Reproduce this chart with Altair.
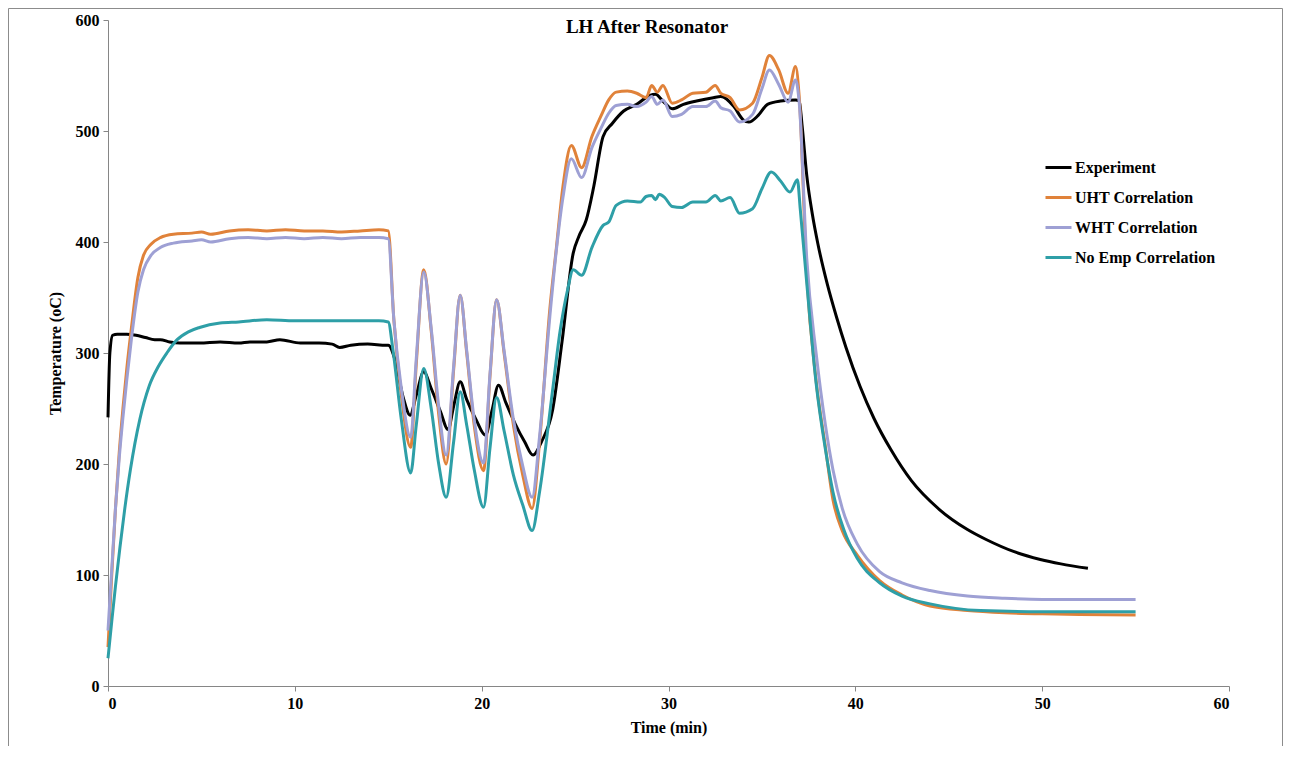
import altair as alt
import pandas as pd

# ---------------- data ----------------
series_names = ["Experiment", "UHT Correlation", "WHT Correlation", "No Emp Correlation"]
series_colors = ["#000000", "#E0823A", "#9EA0D4", "#2E9FA7"]

exp_t = [0, 0.1, 0.25, 0.5, 1.0, 1.5, 2.0, 2.5, 2.8, 3.3, 3.85, 4.9, 6.0, 7.0, 7.6, 8.5, 9.2,
         10.3, 11.3, 12.0, 12.4, 13.0, 13.9, 14.9, 15.0, 15.36, 15.8, 16.17, 16.5, 16.9, 17.3,
         17.8, 18.2, 18.5, 18.85, 19.2, 19.7, 20.2, 20.55, 20.9, 21.3, 21.8, 22.3, 22.75, 23.2,
         23.8, 24.3, 24.9, 25.2, 25.6, 26.0, 26.5, 27.0, 27.6, 28.3, 29.0, 29.3, 29.7, 30.2, 30.8,
         31.5, 32.4, 32.8, 33.5, 34.0, 34.3, 34.8, 35.3, 36.0, 36.8, 37.0, 37.15, 37.4, 37.7,
         38.0, 38.5, 39.0, 39.5, 40.25, 41.0, 41.9, 43.0, 44.5, 46.0, 47.0, 48.5, 49.9, 51.0, 52.45]
exp_v = [242, 300, 316, 317, 317, 316, 314, 312, 312, 310, 309, 309, 310, 309, 310, 310, 312,
         309, 309, 308, 305, 307, 308, 307, 307, 294, 260, 244, 262, 283, 268,
         247, 231, 252, 274, 258, 240, 226, 248, 271, 255, 236, 220, 208, 220,
         249, 310, 390, 405, 420, 450, 495, 507, 518, 524, 532, 533, 527, 520, 524,
         527, 530, 531, 522, 510, 508, 514, 524, 527, 528, 527, 505, 460, 425,
         398, 362, 332, 305, 270, 241, 213, 185, 159, 141, 132, 121, 114, 110, 106]

sim_t = [0, 0.2, 0.4, 0.6, 0.8, 1.0, 1.27, 1.6, 1.9, 2.3, 2.8, 3.5, 4.5, 5.0, 5.5, 6.5, 7.5,
         8.5, 9.5, 10.5, 11.5, 12.5, 13.5, 14.5, 15.0, 15.3, 15.7, 16.2, 16.5, 16.9, 17.3,
         17.7, 18.1, 18.5, 18.85, 19.2, 19.6, 20.1, 20.45, 20.8, 21.2, 21.7, 22.2, 22.7, 23.1,
         23.65, 24.0, 24.35, 24.8, 25.35, 25.9, 26.4, 26.8, 27.2, 27.8, 28.3, 28.8, 29.1, 29.4,
         29.7, 30.2, 30.7, 31.3, 32.0, 32.5, 32.8, 33.3, 33.8, 34.5, 35.0, 35.4, 35.9, 36.4,
         36.8, 37.0, 37.4, 37.9, 38.4, 38.8, 39.3, 40.1, 41.3, 42.5, 44.0, 46.0, 48.0, 50.0,
         52.0, 55.0]
uht_v = [35, 100, 160, 210, 250, 285, 325, 368, 388, 398, 404, 407, 408, 409, 407, 410, 411,
         410, 411, 410, 410, 409, 410, 411, 410, 330, 262, 215, 290, 375, 320,
         245, 200, 285, 352, 300, 235, 194, 280, 348, 300, 235, 190, 160, 220,
         340, 395, 450, 487, 467, 495, 514, 528, 535, 536, 534, 530, 541, 535,
         541, 525, 528, 534, 535, 541, 534, 530, 519, 525, 548, 568, 555, 534,
         558, 530, 370, 275, 215, 168, 140, 118, 95, 82, 72, 68, 66, 65,
         64.5, 64]
wht_v = [50, 105, 160, 205, 242, 275, 315, 355, 375, 388, 395, 399, 401, 402, 400, 403, 404,
         403, 404, 403, 404, 403, 404, 404, 403, 330, 268, 224, 295, 373, 322,
         252, 208, 288, 352, 302, 240, 201, 282, 348, 302, 240, 198, 170, 225,
         333, 393, 440, 475, 458, 485, 503, 516, 523, 524, 522, 526, 531, 524,
         528, 513, 515, 522, 522, 527, 521, 518, 508, 515, 538, 555, 542, 526,
         546, 525, 385, 300, 235, 195, 160, 128, 103, 93, 86, 81, 79, 78,
         78, 78]

noemp_t = [0, 0.2, 0.4, 0.64, 0.9, 1.2, 1.7, 2.2, 2.7, 3.15, 3.7, 4.3, 4.9, 6.0, 7.0, 8.5, 10.0,
           11.5, 13.0, 14.5, 15.0, 15.25, 15.7, 16.2, 16.5, 16.9, 17.3, 17.7, 18.1, 18.5, 18.85,
           19.2, 19.6, 20.1, 20.45, 20.8, 21.2, 21.7, 22.2, 22.7, 23.1, 23.8, 24.2, 24.6, 24.9,
           25.35, 25.9, 26.5, 26.8, 27.2, 27.8, 28.5, 28.8, 29.1, 29.3, 29.5, 29.8, 30.2, 30.7,
           31.3, 32.0, 32.5, 32.8, 33.3, 33.8, 34.5, 35.0, 35.5, 36.0, 36.5, 36.9, 37.05, 37.4,
           37.9, 38.4, 38.8, 39.4, 40.1, 41.3, 42.5, 44.0, 46.7, 50.0, 55.0]
noemp_v = [25, 58, 90, 125, 160, 195, 240, 270, 288, 300, 312, 319, 323, 327, 328, 330, 329,
           329, 329, 329, 328, 303, 240, 192, 235, 286, 250, 200, 170, 220, 265,
           235, 195, 161, 215, 260, 230, 190, 163, 140, 175, 267, 320, 357, 375,
           370, 395, 415, 418, 433, 437, 436, 441, 442, 438, 443, 440, 432, 431,
           436, 436, 442, 437, 440, 426, 430, 448, 463, 455, 445, 456, 430, 363,
           273, 213, 175, 140, 115, 93, 81, 74, 68, 67, 67]

x_ticks = [0, 10, 20, 30, 40, 50, 60]
y_ticks = [0, 100, 200, 300, 400, 500, 600]

# ---------------- chart ----------------
W, H = 1121, 666
FONT = "Liberation Serif"

color_scale = alt.Scale(domain=series_names, range=series_colors)
legend = alt.Legend(
    title=None, orient="none", legendX=936, legendY=133,
    symbolType="stroke", symbolSize=676, symbolStrokeWidth=3,
    labelFont=FONT, labelFontWeight="bold", labelFontSize=16, labelColor="#000000",
    labelOffset=2, rowPadding=7, padding=0,
)

x_enc = alt.X("t:Q", scale=alt.Scale(domain=[0, 60], nice=False),
              axis=alt.Axis(title="Time (min)", values=x_ticks, format="d"))
y_enc = alt.Y("v:Q", scale=alt.Scale(domain=[0, 600], nice=False),
              axis=alt.Axis(title="Temperature (oC)", values=y_ticks, format="d"))


def line_layer(name, ts, vs):
    df = pd.DataFrame({"t": ts, "v": vs, "series": name})
    return alt.Chart(df).mark_line(strokeWidth=3, interpolate="monotone").encode(
        x=x_enc, y=y_enc,
        color=alt.Color("series:N", scale=color_scale, legend=legend),
    )


border = alt.Chart(alt.Data(values=[{"k": 1}])).mark_rect(
    filled=False, stroke="#8c8c8c", strokeWidth=1
).encode(x=alt.value(-99.5), x2=alt.value(1174.5), y=alt.value(-11.5), y2=alt.value(745))

title = alt.Chart(alt.Data(values=[{"label": "LH After Resonator"}])).mark_text(
    font=FONT, fontWeight="bold", fontSize=19, color="#000000",
    align="center", baseline="alphabetic",
).encode(text="label:N", x=alt.value(539), y=alt.value(13))

chart = alt.layer(
    border,
    line_layer(series_names[0], exp_t, exp_v),
    line_layer(series_names[1], sim_t, uht_v),
    line_layer(series_names[2], sim_t, wht_v),
    line_layer(series_names[3], noemp_t, noemp_v),
    title,
).properties(
    width=W, height=H,
    autosize=alt.AutoSizeParams(type="none"),
    padding={"left": 100, "top": 12, "right": 54, "bottom": 60},
).configure_view(stroke=None).configure_axis(
    grid=False, domainColor="#868686", tickColor="#868686", tickSize=5,
    labelFont=FONT, labelFontWeight="bold", labelFontSize=16, labelColor="#000000",
    titleFont=FONT, titleFontWeight="bold", titleFontSize=16, titleColor="#000000",
).configure_axisX(labelPadding=4, titlePadding=8).configure_axisY(labelPadding=4, titlePadding=12)

chart.save("out.html", embed_options={"renderer": "svg", "actions": False})
